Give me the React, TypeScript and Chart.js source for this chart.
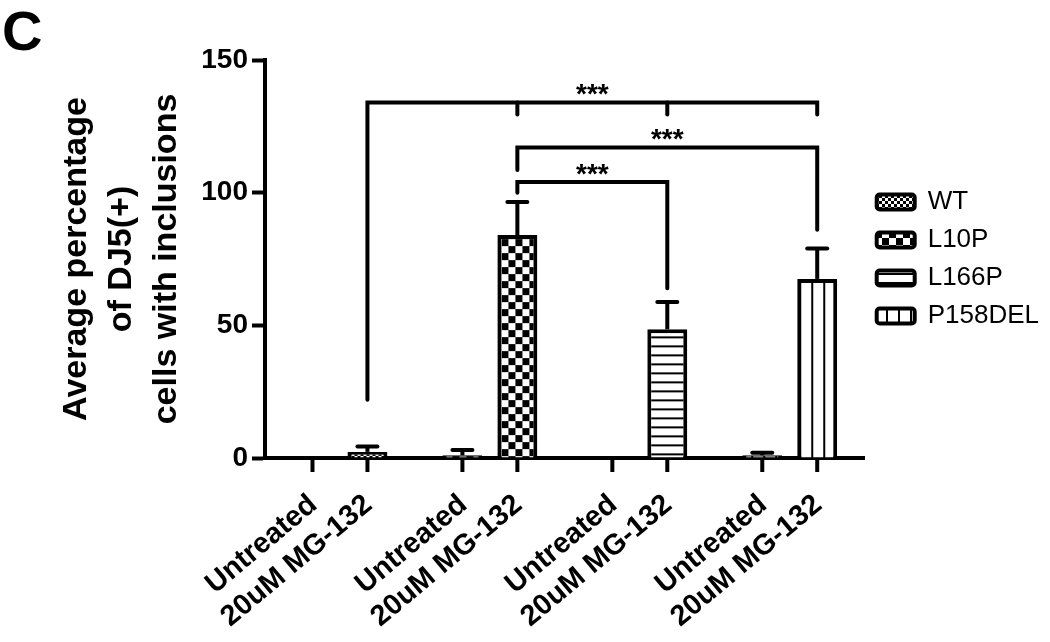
import React, { useEffect, useRef } from 'react';
import { Chart, registerables } from 'chart.js';
Chart.register(...registerables);

// ---- data ----
const panelLabel = 'C';
const genotypes = ['WT', 'L10P', 'L166P', 'P158DEL'];
const treatments = ['Untreated', '20uM MG-132'];
const untreatedMean = [0, 1, 0, 1];
const untreatedErr = [0, 2, 0, 1];
const mg132Mean = [2.3, 84, 48.5, 67.5];
const mg132Err = [2, 12.5, 10.3, 11.5];
const yTicks = [0, 50, 100, 150];
const yTitle = ['Average percentage', 'of DJ5(+)', 'cells with inclusions'];
// significance brackets; bars numbered genotype-major: 0 WT-Untr, 1 WT-MG, 2 L10P-Untr, 3 L10P-MG ...
const sigFrom = [1, 3, 3];
const sigTo = [7, 7, 5];
const sigLevel = [134, 117, 104];
const sigFromEnd = [22, 108.5, 100];
const sigToEnd = [129.5, 86, 64];
const sigMid = [[3, 5], [], []];
const sigText = ['***', '***', '***'];

const FONT = "'Liberation Sans', Arial, Helvetica, sans-serif";

type Drawer = (g: CanvasRenderingContext2D) => void;
function makePattern(w: number, h: number, draw: Drawer): CanvasPattern {
  const c = document.createElement('canvas');
  c.width = w;
  c.height = h;
  const g = c.getContext('2d')!;
  g.fillStyle = '#fff';
  g.fillRect(0, 0, w, h);
  g.fillStyle = '#000';
  draw(g);
  return g.createPattern(c, 'repeat')!;
}
function buildPatterns(): CanvasPattern[] {
  return [
    makePattern(6, 6, (g) => { g.fillRect(0, 0, 3, 3); g.fillRect(3, 3, 3, 3); }),
    makePattern(14, 14, (g) => { g.fillRect(0, 0, 7, 7); g.fillRect(7, 7, 7, 7); }),
    makePattern(8, 9, (g) => { g.fillRect(0, 3, 8, 2); }),
    makePattern(12, 8, (g) => { g.fillRect(10, 0, 2, 8); }),
  ];
}

export default function App() {
  const ref = useRef<HTMLCanvasElement>(null);
  useEffect(() => {
    const canvas = ref.current!;
    const barPatterns = buildPatterns();
    const legendPatterns = buildPatterns();

    const barEl = (chart: any, k: number) => chart.getDatasetMeta(k % 2).data[Math.floor(k / 2)];

    const alignPlugin = {
      id: 'alignPatterns',
      beforeDatasetsDraw(chart: any) {
        const meta = chart.getDatasetMeta(1);
        meta.data.forEach((el: any, i: number) => {
          const left = el.x - el.width / 2 + 4;
          const top = el.y + 4;
          try {
            barPatterns[i].setTransform(new DOMMatrix([1, 0, 0, 1, left, top]));
          } catch (e) { /* ignore */ }
        });
      },
    };

    const extrasPlugin = {
      id: 'extras',
      afterDraw(chart: any) {
        const ctx = chart.ctx as CanvasRenderingContext2D;
        const y = chart.scales.y;
        const area = chart.chartArea;
        ctx.save();
        ctx.strokeStyle = '#000';
        ctx.fillStyle = '#000';
        // error bars
        const means = [untreatedMean, mg132Mean];
        const errs = [untreatedErr, mg132Err];
        for (let d = 0; d < 2; d++) {
          const meta = chart.getDatasetMeta(d);
          meta.data.forEach((el: any, i: number) => {
            const e = errs[d][i];
            if (!e) return;
            const py0 = y.getPixelForValue(means[d][i]);
            const py1 = y.getPixelForValue(means[d][i] + e);
            ctx.lineWidth = 4;
            ctx.lineCap = 'butt';
            ctx.beginPath();
            ctx.moveTo(el.x, py0);
            ctx.lineTo(el.x, py1);
            ctx.stroke();
            ctx.lineCap = 'round';
            ctx.beginPath();
            ctx.moveTo(el.x - 10, py1);
            ctx.lineTo(el.x + 10, py1);
            ctx.stroke();
          });
        }
        // x tick marks and rotated labels
        ctx.lineCap = 'butt';
        ctx.lineWidth = 4;
        ctx.font = `bold 29px ${FONT}`;
        ctx.textAlign = 'right';
        ctx.textBaseline = 'middle';
        for (let k = 0; k < 8; k++) {
          const el = barEl(chart, k);
          ctx.beginPath();
          ctx.moveTo(el.x, area.bottom);
          ctx.lineTo(el.x, area.bottom + 14);
          ctx.stroke();
          ctx.save();
          ctx.translate(el.x + 1, area.bottom + 43);
          ctx.rotate((-40 * Math.PI) / 180);
          ctx.fillText(treatments[k % 2], 0, 0);
          ctx.restore();
        }
        // significance brackets
        ctx.lineWidth = 4;
        ctx.lineCap = 'round';
        ctx.lineJoin = 'miter';
        ctx.font = `bold 28px ${FONT}`;
        ctx.textAlign = 'center';
        ctx.textBaseline = 'alphabetic';
        for (let b = 0; b < sigFrom.length; b++) {
          const x0 = barEl(chart, sigFrom[b]).x;
          const x1 = barEl(chart, sigTo[b]).x;
          const py = y.getPixelForValue(sigLevel[b]);
          ctx.beginPath();
          ctx.moveTo(x0, y.getPixelForValue(sigFromEnd[b]));
          ctx.lineTo(x0, py);
          ctx.lineTo(x1, py);
          ctx.lineTo(x1, y.getPixelForValue(sigToEnd[b]));
          ctx.stroke();
          sigMid[b].forEach((m) => {
            const xm = barEl(chart, m).x;
            ctx.beginPath();
            ctx.moveTo(xm, py);
            ctx.lineTo(xm, y.getPixelForValue(sigToEnd[b]));
            ctx.stroke();
          });
          const m = ctx.measureText(sigText[b]);
          const cy = py - 13;
          const base = cy + (m.actualBoundingBoxAscent - m.actualBoundingBoxDescent) / 2;
          ctx.fillText(sigText[b], (x0 + x1) / 2, base);
        }
        ctx.restore();
      },
    };

    const chart = new Chart(canvas, {
      type: 'bar',
      data: {
        labels: genotypes,
        datasets: [
          {
            label: treatments[0],
            data: untreatedMean,
            backgroundColor: barPatterns as any,
            borderColor: '#000',
            borderWidth: 4,
            categoryPercentage: 0.733,
            barPercentage: 0.727,
          },
          {
            label: treatments[1],
            data: mg132Mean,
            backgroundColor: barPatterns as any,
            borderColor: '#000',
            borderWidth: 4,
            categoryPercentage: 0.733,
            barPercentage: 0.727,
          },
        ],
      },
      options: {
        responsive: false,
        animation: false,
        devicePixelRatio: 1,
        layout: { padding: { left: 2, right: 1, top: 0, bottom: 0 } },
        scales: {
          x: {
            z: 1,
            grid: { display: false, drawTicks: false },
            ticks: { display: false },
            border: { display: true, color: '#000', width: 4 },
            afterFit: (s: any) => { s.height = 184; },
          },
          y: {
            z: 1,
            min: 0,
            max: 150,
            afterBuildTicks: (s: any) => { s.ticks = yTicks.map((v) => ({ value: v })); },
            ticks: { color: '#000', font: { family: FONT, size: 28, weight: 'bold' }, padding: 4 },
            grid: { drawOnChartArea: false, drawTicks: true, tickLength: 13, tickWidth: 4, tickColor: '#000' },
            border: { display: true, color: '#000', width: 4 },
            title: {
              display: true,
              text: yTitle,
              color: '#000',
              font: { family: FONT, size: 34, weight: 'bold', lineHeight: '45px' },
              padding: { top: 52, bottom: 0 },
            },
            afterFit: (s: any) => { s.width = 263; },
          },
        },
        plugins: {
          title: {
            display: true,
            text: panelLabel,
            align: 'start',
            color: '#000',
            font: { family: FONT, size: 56, weight: 'bold', lineHeight: '50px' },
            padding: { top: 10, bottom: 0 },
          },
          legend: {
            display: true,
            position: 'right',
            align: 'center',
            fullSize: false,
            labels: {
              color: '#000',
              font: { family: FONT, size: 26 },
              boxWidth: 38,
              boxHeight: 15,
              padding: 12,
              useBorderRadius: true,
              borderRadius: 3,
              generateLabels: () =>
                genotypes.map((g, i) => ({
                  text: g,
                  fillStyle: legendPatterns[i],
                  strokeStyle: '#000',
                  lineWidth: 4,
                  hidden: false,
                  datasetIndex: 0,
                  borderRadius: 3,
                  fontColor: '#000',
                })),
            },
            onClick: () => {},
          },
          tooltip: { enabled: false },
        },
      } as any,
      plugins: [alignPlugin, extrasPlugin],
    });
    return () => chart.destroy();
  }, []);
  return (
    <div style={{ position: 'absolute', left: 0, top: 0, width: 1050, height: 642, background: '#fff' }}>
      <canvas ref={ref} width={1050} height={642} style={{ display: 'block' }} />
    </div>
  );
}
